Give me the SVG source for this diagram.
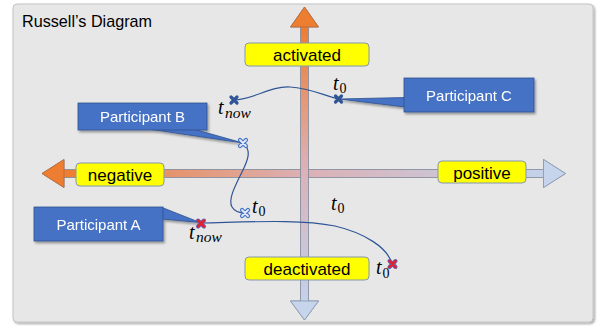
<svg xmlns="http://www.w3.org/2000/svg" width="597" height="326" viewBox="0 0 597 326">
<defs>
  <linearGradient id="gv" gradientUnits="userSpaceOnUse" x1="0" y1="27" x2="0" y2="301">
    <stop offset="0" stop-color="#ed7d31"/>
    <stop offset="0.5" stop-color="#dcb0b4"/>
    <stop offset="1" stop-color="#c3d2ea"/>
  </linearGradient>
  <linearGradient id="gh" gradientUnits="userSpaceOnUse" x1="64" y1="0" x2="543" y2="0">
    <stop offset="0" stop-color="#ed7d31"/>
    <stop offset="0.5" stop-color="#dcb0b4"/>
    <stop offset="1" stop-color="#c3d2ea"/>
  </linearGradient>
  <filter id="sh" x="-20%" y="-30%" width="140%" height="170%">
    <feDropShadow dx="1.5" dy="2" stdDeviation="1.3" flood-color="#000" flood-opacity="0.35"/>
  </filter>
  <filter id="psh" x="-5%" y="-5%" width="110%" height="110%">
    <feDropShadow dx="1.5" dy="1.5" stdDeviation="1" flood-color="#000" flood-opacity="0.35"/>
  </filter>
  <g id="xdark"><path d="M-3,-3L3,3M3,-3L-3,3" stroke="#2f5597" stroke-width="3.2" stroke-linecap="round"/></g>
  <g id="xlight"><path d="M-3,-3L3,3M3,-3L-3,3" stroke="#4472c4" stroke-width="4.2" stroke-linecap="round"/><path d="M-3,-3L3,3M3,-3L-3,3" stroke="#e4ebf7" stroke-width="1.8" stroke-linecap="round"/></g>
  <g id="xred"><path d="M-3,-3L3,3M3,-3L-3,3" stroke="#6a5aa8" stroke-width="4" stroke-linecap="round"/><path d="M-3,-3L3,3M3,-3L-3,3" stroke="#e8202a" stroke-width="2.4" stroke-linecap="round"/></g>
</defs>
<style>
  .lbl{fill:#ffff00;stroke:#8497b0;stroke-width:1}
  .lt{font-family:"Liberation Sans",Arial,sans-serif;font-size:17px;fill:#000;text-anchor:middle}
  .pb{fill:#4472c4;stroke:#2f528f;stroke-width:0.8}
  .pt{font-family:"Liberation Sans",Arial,sans-serif;font-size:15px;fill:#fff;text-anchor:middle}
  .conn{fill:none;stroke:#2f5597;stroke-width:1.2}
  .mt{font-family:"Liberation Serif","Times New Roman",serif;font-style:italic;font-size:20px;fill:#000}
  .ms{font-family:"Liberation Serif","Times New Roman",serif;font-style:italic;font-size:15.5px;fill:#000}
  .m0{font-family:"Liberation Serif","Times New Roman",serif;font-size:14px;fill:#000}
</style>

<g id="panel">
  <rect x="13" y="4" width="580" height="318" rx="4" fill="#e7e7e7" stroke="#c4c4c4" stroke-width="1" filter="url(#psh)"/>
  <text x="22" y="27" font-family="Liberation Sans, Arial, sans-serif" font-size="17" textLength="130" lengthAdjust="spacingAndGlyphs" fill="#000">Russell’s Diagram</text>
</g>

<g id="axis-horizontal">
  <polygon points="42,173.5 64,159.5 64,169.5 543.5,169.5 543.5,159.5 565.5,173.5 543.5,187.5 543.5,177.5 64,177.5 64,187.5" fill="url(#gh)" stroke="#7d8799" stroke-width="0.8"/>
  <polygon points="42,173.5 64,159.5 64,187.5" fill="#ed7d31" stroke="#b86a3a" stroke-width="0.8"/>
  <polygon points="565.5,173.5 543.5,159.5 543.5,187.5" fill="#c6d5ec" stroke="#8497b0" stroke-width="0.8"/>
</g>
<g id="axis-vertical">
  <polygon points="304.5,7 318.5,27 308.5,27 308.5,301 318.5,301 304.5,320 290.5,301 300.5,301 300.5,27 290.5,27" fill="url(#gv)" stroke="#7d8799" stroke-width="0.8"/>
  <polygon points="304.5,7 318.5,27 290.5,27" fill="#ed7d31" stroke="#b86a3a" stroke-width="0.8"/>
  <polygon points="304.5,320 318.5,301 290.5,301" fill="#c6d5ec" stroke="#8497b0" stroke-width="0.8"/>
</g>

<g id="label-activated"><rect class="lbl" x="245" y="43" width="124" height="23" rx="4"/><text class="lt" x="307" y="61">activated</text></g>
<g id="label-deactivated"><rect class="lbl" x="245" y="257" width="124" height="23" rx="4"/><text class="lt" x="307" y="275">deactivated</text></g>
<g id="label-negative"><rect class="lbl" x="76" y="163" width="88" height="23" rx="4"/><text class="lt" x="120" y="181">negative</text></g>
<g id="label-positive"><rect class="lbl" x="438" y="161" width="88" height="22" rx="4"/><text class="lt" x="482" y="178.5">positive</text></g>

<g id="connectors">
  <path class="conn" d="M234,100 C255,99 270,86 290,87 C310,88 325,96 338.5,99"/>
  <path class="conn" d="M243,143 C252,150 248,160 242,172 C234,188 228,200 232,207 C235,212 240,213 245,213"/>
  <path class="conn" d="M201,223 C250,222 300,219 335,226 C365,233 388,248 392,264"/>
</g>

<g id="participant-b" filter="url(#sh)">
  <polygon class="pb" points="152,129.5 243,143 195,129.5"/>
  <rect class="pb" x="78" y="103" width="129" height="27"/>
  <text class="pt" x="142.5" y="122">Participant B</text>
</g>
<g id="participant-c" filter="url(#sh)">
  <polygon class="pb" points="405,97.5 339,99 405,107"/>
  <rect class="pb" x="404" y="78" width="130" height="34"/>
  <text class="pt" x="469" y="100.5">Participant C</text>
</g>
<g id="participant-a" filter="url(#sh)">
  <polygon class="pb" points="162,207.5 200,222.5 162,219"/>
  <rect class="pb" x="34" y="207" width="129" height="34"/>
  <text class="pt" x="98.5" y="229.5">Participant A</text>
</g>

<g id="markers">
  <use href="#xdark" x="234" y="100"/>
  <use href="#xdark" x="338.5" y="99"/>
  <use href="#xlight" x="243" y="143"/>
  <use href="#xlight" x="245" y="213"/>
  <use href="#xred" x="201" y="223.5"/>
  <use href="#xred" x="392.5" y="264"/>
</g>

<g id="time-labels">
  <text class="mt" x="218" y="114">t</text><text class="ms" x="225" y="118">now</text>
  <text class="mt" x="333" y="90">t</text><text class="m0" x="339.5" y="93">0</text>
  <text class="mt" x="252" y="213">t</text><text class="m0" x="258.5" y="216">0</text>
  <text class="mt" x="189" y="239">t</text><text class="ms" x="196" y="242">now</text>
  <text class="mt" x="331" y="209.5">t</text><text class="m0" x="337.5" y="212.5">0</text>
  <text class="mt" x="376" y="274">t</text><text class="m0" x="382.5" y="278">0</text>
</g>
</svg>
